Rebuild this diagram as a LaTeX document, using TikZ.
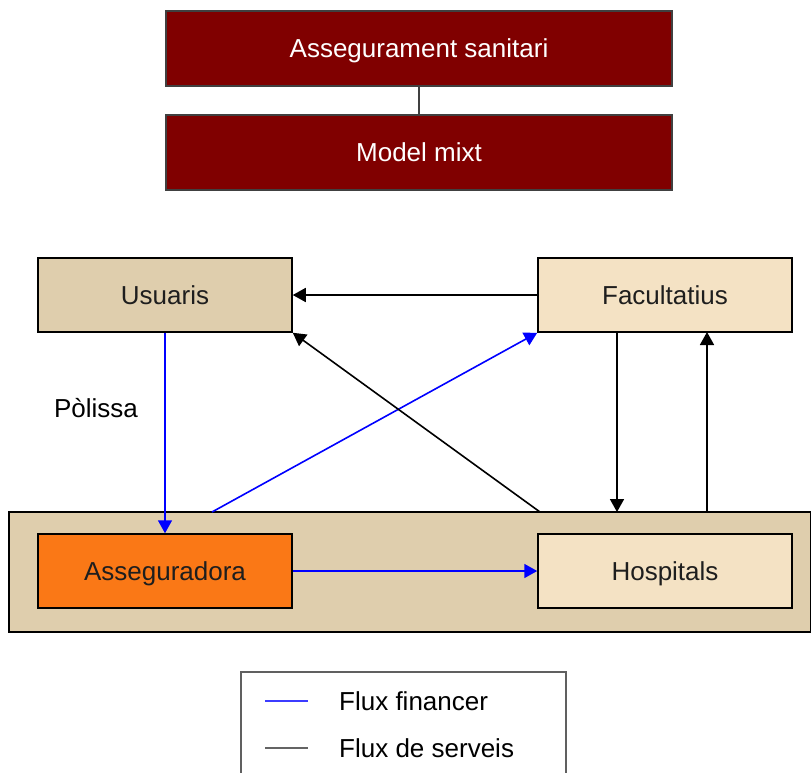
\documentclass[tikz,border=0pt]{standalone}
\usepackage{fontspec}
\setmainfont{Liberation Sans}
\usetikzlibrary{arrows.meta}
\definecolor{darkred}{RGB}{128,0,0}
\definecolor{tanA}{RGB}{223,206,173}
\definecolor{tanB}{RGB}{244,226,196}
\definecolor{orangeA}{RGB}{250,120,22}
\definecolor{txt}{RGB}{30,30,30}
\definecolor{bordergray}{RGB}{64,64,64}
\definecolor{legborder}{RGB}{96,96,96}
\definecolor{legblue}{RGB}{60,60,255}
\definecolor{leggray}{RGB}{100,100,100}
\begin{document}
\begin{tikzpicture}[x=1pt,y=-1pt,
  every node/.style={font=\fontsize{26}{30}\selectfont, inner sep=0pt},
  topbox/.style={draw=bordergray, line width=1.5pt, fill=darkred, text=white, minimum width=506pt, minimum height=75pt, text height=18.6pt, text depth=0pt},
  ebox/.style={draw=black, line width=1.5pt, text=txt, minimum width=254pt, minimum height=74pt, text height=18.6pt, text depth=0pt},
  fin/.style={draw=blue, line width=1.6pt, -{Triangle[length=13pt,width=14pt]}},
  serv/.style={draw=black, line width=1.6pt, -{Triangle[length=13pt,width=14pt]}}]
\useasboundingbox (0,0) rectangle (811,772);
\clip (0,0) rectangle (811,772);
% top boxes
\node[topbox] (top) at (419,48.5) {Assegurament sanitari};
\node[topbox] (mixt) at (419,152.5) {Model mixt};
\draw[bordergray, line width=1.5pt] (top.south) -- (mixt.north);
% container
\node[draw=black, line width=1.5pt, fill=tanA, minimum width=802pt, minimum height=120pt] (cont) at (410,572) {};
% boxes
\node[ebox, fill=tanA] (usu) at (165,295) {Usuaris};
\node[ebox, fill=tanB] (fac) at (665,295) {Facultatius};
\node[ebox, fill=orangeA] (ass) at (165,571) {Asseguradora};
\node[ebox, fill=tanB] (hos) at (665,571) {Hospitals};
% label
\node[text=black, text height=18.6pt, text depth=0pt] (pol) at (96,408) {Pòlissa};
% coordinates on container top
\coordinate (c1) at (212,512);
\coordinate (c2) at (540,512);
\coordinate (c3) at (617,512);
\coordinate (c4) at (707,512);
\coordinate (f3) at (617,332);
\coordinate (f4) at (707,332);
% arrows
\draw[serv] (fac.west) -- (usu.east);
\draw[fin] (usu.south) -- (ass.north);
\draw[fin] (c1) -- (fac.south west);
\draw[serv] (c2) -- (usu.south east);
\draw[serv] (f3) -- (c3);
\draw[serv] (c4) -- (f4);
\draw[fin] (ass.east) -- (hos.west);
% legend
\draw[legborder, line width=1.5pt] (241,800) -- (241,672) -- (566,672) -- (566,800);
\coordinate (l1a) at (265,701);
\coordinate (l1b) at (308,701);
\coordinate (l2a) at (265,748);
\coordinate (l2b) at (308,748);
\draw[legblue, line width=1.5pt] (l1a) -- (l1b);
\draw[leggray, line width=2pt] (l2a) -- (l2b);
\node[anchor=west, text=black, text height=18.6pt, text depth=0pt] (lf) at (339,701) {Flux financer};
\node[anchor=west, text=black, text height=18.6pt, text depth=0pt] (ls) at (339,748) {Flux de serveis};
\end{tikzpicture}
\end{document}
